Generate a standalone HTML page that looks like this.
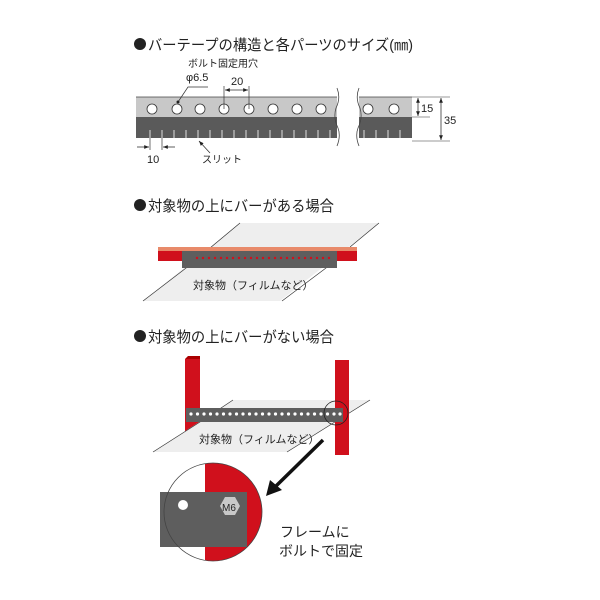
<!DOCTYPE html>
<html><head><meta charset="utf-8"><style>
body{margin:0;background:#fff;}
svg{display:block;}
text{font-family:"Liberation Sans","Noto Sans CJK JP",sans-serif;fill:#222;}
</style></head><body>
<svg width="600" height="600" viewBox="0 0 600 600" xmlns="http://www.w3.org/2000/svg">
<defs>
<marker id="ar" viewBox="0 0 10 10" refX="10" refY="5" markerWidth="6" markerHeight="6" orient="auto-start-reverse"><path d="M0,1 L10,5 L0,9 z" fill="#222"/></marker>
</defs>
<circle cx="140" cy="44" r="6" fill="#222"/>
<text x="148" y="50" font-size="15" textLength="265" lengthAdjust="spacingAndGlyphs">バーテープの構造と各パーツのサイズ(㎜)</text>
<text x="188" y="67" font-size="10">ボルト固定用穴</text>
<text x="186" y="81" font-size="11">φ6.5</text>
<text x="231" y="85" font-size="11">20</text>
<g>
<rect x="136" y="97" width="201" height="20" fill="#c8c8c8"/>
<rect x="136" y="117" width="201" height="21" fill="#5a5a5a"/>
<rect x="359" y="97" width="53" height="20" fill="#c8c8c8"/>
<rect x="359" y="117" width="53" height="21" fill="#5a5a5a"/>
<line x1="136" y1="97" x2="337" y2="97" stroke="#444" stroke-width="0.8"/>
<line x1="359" y1="97" x2="412" y2="97" stroke="#444" stroke-width="0.8"/>
<path d="M337,88 q4,10 -1,20 q-3,10 2,20 q3,8 -1,18" stroke="#444" fill="none" stroke-width="0.8"/>
<path d="M359,88 q-4,10 1,20 q3,10 -2,20 q-3,8 1,18" stroke="#444" fill="none" stroke-width="0.8"/>
<g fill="#fff" stroke="#333" stroke-width="0.8">
<circle cx="152" cy="109" r="5"/><circle cx="177" cy="109" r="5"/><circle cx="200" cy="109" r="5"/><circle cx="224" cy="109" r="5"/><circle cx="249" cy="109" r="5"/><circle cx="273" cy="109" r="5"/><circle cx="297" cy="109" r="5"/><circle cx="321" cy="109" r="5"/><circle cx="368" cy="109" r="5"/><circle cx="394" cy="109" r="5"/>
</g>
<g stroke="#ddd" stroke-width="1">
<line x1="150" y1="130" x2="150" y2="138"/><line x1="162" y1="130" x2="162" y2="138"/><line x1="174" y1="130" x2="174" y2="138"/><line x1="186" y1="130" x2="186" y2="138"/><line x1="198" y1="130" x2="198" y2="138"/><line x1="210" y1="130" x2="210" y2="138"/><line x1="222" y1="130" x2="222" y2="138"/><line x1="234" y1="130" x2="234" y2="138"/><line x1="246" y1="130" x2="246" y2="138"/><line x1="258" y1="130" x2="258" y2="138"/><line x1="270" y1="130" x2="270" y2="138"/><line x1="282" y1="130" x2="282" y2="138"/><line x1="294" y1="130" x2="294" y2="138"/><line x1="306" y1="130" x2="306" y2="138"/><line x1="318" y1="130" x2="318" y2="138"/><line x1="330" y1="130" x2="330" y2="138"/>
<line x1="364" y1="130" x2="364" y2="138"/><line x1="376" y1="130" x2="376" y2="138"/><line x1="388" y1="130" x2="388" y2="138"/><line x1="400" y1="130" x2="400" y2="138"/>
</g>
</g>
<polyline points="178,102 188,87 208,87" fill="none" stroke="#333" stroke-width="0.7"/>
<circle cx="178" cy="102" r="1.5" fill="#222"/>
<line x1="224" y1="86" x2="224" y2="109" stroke="#333" stroke-width="0.7"/>
<line x1="249" y1="86" x2="249" y2="109" stroke="#333" stroke-width="0.7"/>
<line x1="225" y1="90" x2="248" y2="90" stroke="#333" stroke-width="0.8" marker-start="url(#ar)" marker-end="url(#ar)"/>
<line x1="150" y1="138" x2="150" y2="150" stroke="#333" stroke-width="0.7"/>
<line x1="162" y1="138" x2="162" y2="150" stroke="#333" stroke-width="0.7"/>
<line x1="137" y1="147" x2="149" y2="147" stroke="#333" stroke-width="0.8" marker-end="url(#ar)"/>
<line x1="175" y1="147" x2="163" y2="147" stroke="#333" stroke-width="0.8" marker-end="url(#ar)"/>
<text x="147" y="163" font-size="11">10</text>
<line x1="210" y1="153" x2="199" y2="141" stroke="#333" stroke-width="0.8" marker-end="url(#ar)"/>
<text x="202" y="163" font-size="10">スリット</text>
<line x1="412" y1="97" x2="450" y2="97" stroke="#333" stroke-width="0.6"/>
<line x1="412" y1="117" x2="430" y2="117" stroke="#333" stroke-width="0.6"/>
<line x1="412" y1="141" x2="450" y2="141" stroke="#333" stroke-width="0.6"/>
<line x1="418" y1="98" x2="418" y2="116" stroke="#333" stroke-width="0.8" marker-start="url(#ar)" marker-end="url(#ar)"/>
<line x1="441" y1="98" x2="441" y2="140" stroke="#333" stroke-width="0.8" marker-start="url(#ar)" marker-end="url(#ar)"/>
<text x="421" y="112" font-size="11">15</text>
<text x="444" y="124" font-size="11">35</text>

<circle cx="140" cy="205" r="6" fill="#222"/>
<text x="148" y="211" font-size="15" textLength="186" lengthAdjust="spacingAndGlyphs">対象物の上にバーがある場合</text>
<polygon points="240,223 379,223 280,301 143,301" fill="#eeeeee"/>
<line x1="240" y1="223" x2="210" y2="248" stroke="#333" stroke-width="0.7"/>
<line x1="379" y1="223" x2="350" y2="247" stroke="#333" stroke-width="0.7"/>
<line x1="190" y1="265" x2="143" y2="301" stroke="#333" stroke-width="0.7"/>
<line x1="330" y1="265" x2="282" y2="301" stroke="#333" stroke-width="0.7"/>
<rect x="158" y="247" width="199" height="14" fill="#d0101c"/>
<rect x="158" y="247" width="199" height="4" fill="#e88a6a"/>
<rect x="182" y="251" width="155" height="17" fill="#5e5e5e"/>
<g fill="#d0101c">
<circle cx="197" cy="258" r="1.2"/><circle cx="203" cy="258" r="1.2"/><circle cx="209" cy="258" r="1.2"/><circle cx="215" cy="258" r="1.2"/><circle cx="221" cy="258" r="1.2"/><circle cx="227" cy="258" r="1.2"/><circle cx="233" cy="258" r="1.2"/><circle cx="239" cy="258" r="1.2"/><circle cx="245" cy="258" r="1.2"/><circle cx="251" cy="258" r="1.2"/><circle cx="257" cy="258" r="1.2"/><circle cx="263" cy="258" r="1.2"/><circle cx="269" cy="258" r="1.2"/><circle cx="275" cy="258" r="1.2"/><circle cx="281" cy="258" r="1.2"/><circle cx="287" cy="258" r="1.2"/><circle cx="293" cy="258" r="1.2"/><circle cx="299" cy="258" r="1.2"/><circle cx="305" cy="258" r="1.2"/><circle cx="311" cy="258" r="1.2"/><circle cx="317" cy="258" r="1.2"/><circle cx="323" cy="258" r="1.2"/><circle cx="329" cy="258" r="1.2"/>
</g>
<text x="193" y="289" font-size="11">対象物（フィルムなど）</text>

<circle cx="140" cy="336" r="6" fill="#222"/>
<text x="148" y="342" font-size="15" textLength="186" lengthAdjust="spacingAndGlyphs">対象物の上にバーがない場合</text>
<rect x="185" y="359" width="15" height="72" fill="#d0101c"/>
<polygon points="185,359 188,356 200,356 200,359" fill="#a00"/>
<polygon points="233,400 370,400 287,452 153,452" fill="#eeeeee"/>
<line x1="233" y1="400" x2="200" y2="422" stroke="#333" stroke-width="0.7"/>
<line x1="200" y1="422" x2="153" y2="452" stroke="#333" stroke-width="0.7"/>
<line x1="370" y1="400" x2="287" y2="452" stroke="#333" stroke-width="0.7"/>
<rect x="335" y="360" width="14" height="95" fill="#d0101c"/>
<rect x="186" y="408" width="157" height="14" fill="#5e5e5e"/>
<g fill="#fff">
<circle cx="191" cy="414" r="1.6"/><circle cx="197.5" cy="414" r="1.6"/><circle cx="204" cy="414" r="1.6"/><circle cx="210.5" cy="414" r="1.6"/><circle cx="217" cy="414" r="1.6"/><circle cx="223.5" cy="414" r="1.6"/><circle cx="230" cy="414" r="1.6"/><circle cx="236.5" cy="414" r="1.6"/><circle cx="243" cy="414" r="1.6"/><circle cx="249.5" cy="414" r="1.6"/><circle cx="256" cy="414" r="1.6"/><circle cx="262.5" cy="414" r="1.6"/><circle cx="269" cy="414" r="1.6"/><circle cx="275.5" cy="414" r="1.6"/><circle cx="282" cy="414" r="1.6"/><circle cx="288.5" cy="414" r="1.6"/><circle cx="295" cy="414" r="1.6"/><circle cx="301.5" cy="414" r="1.6"/><circle cx="308" cy="414" r="1.6"/><circle cx="314.5" cy="414" r="1.6"/><circle cx="321" cy="414" r="1.6"/><circle cx="327.5" cy="414" r="1.6"/><circle cx="334" cy="414" r="1.6"/><circle cx="340" cy="414" r="1.6"/>
</g>
<circle cx="336" cy="413" r="12" fill="none" stroke="#222" stroke-width="0.8"/>
<text x="199" y="443" font-size="11">対象物（フィルムなど）</text>
<line x1="323" y1="440" x2="275" y2="487" stroke="#111" stroke-width="3.5"/>
<path d="M266,496 L270,480 L282,490 z" fill="#111"/>
<clipPath id="cc"><circle cx="213" cy="512" r="49"/></clipPath>
<g clip-path="url(#cc)">
<rect x="160" y="460" width="110" height="110" fill="#fff"/>
<rect x="205" y="460" width="65" height="110" fill="#d0101c"/>
</g>
<rect x="160" y="492" width="87" height="55" fill="#5e5e5e"/>
<circle cx="213" cy="512" r="49" fill="none" stroke="#444" stroke-width="0.8"/>
<circle cx="183" cy="505" r="5" fill="#fff"/>
<polygon points="220,506 225,497 235,497 240,506 235,515 225,515" fill="#c8c8c8"/>
<text x="222" y="511" font-size="10" fill="#222">M6</text>
<text x="280" y="537" font-size="14">フレームに</text>
<text x="279" y="556" font-size="14">ボルトで固定</text>
</svg>
</body></html>
